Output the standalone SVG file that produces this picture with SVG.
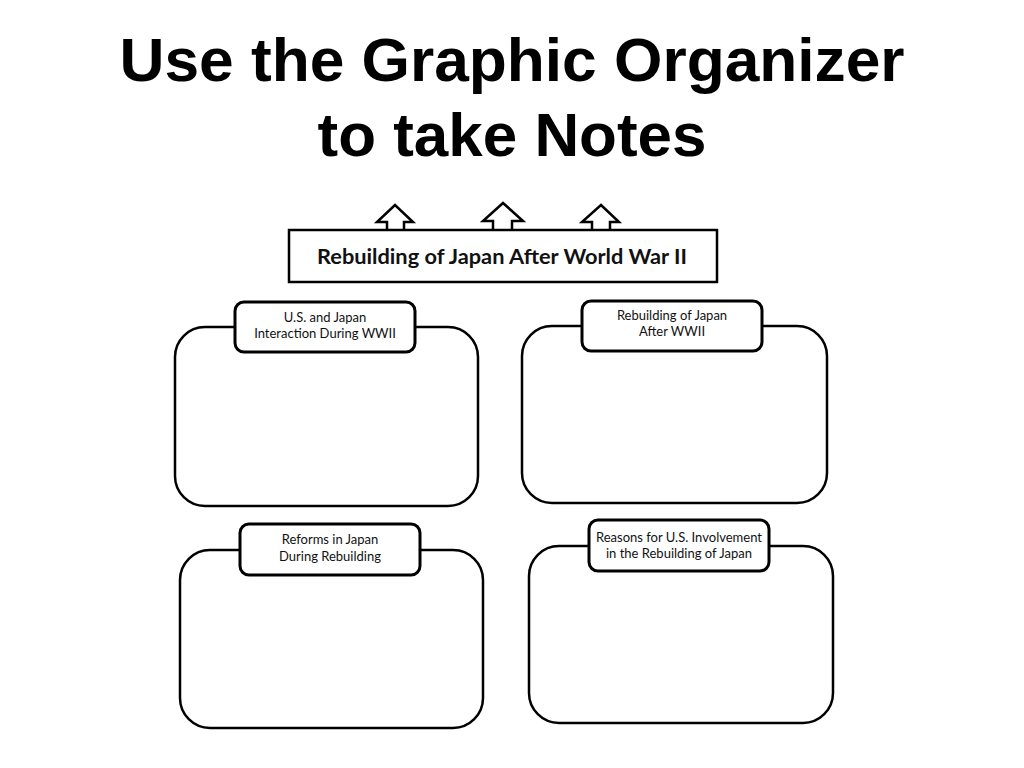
<svg xmlns="http://www.w3.org/2000/svg" width="1024" height="768" viewBox="0 0 1024 768">
<style>
.title{font-family:"Liberation Sans",Arial,sans-serif;font-weight:bold;font-size:61px;fill:#000;text-anchor:middle}
.outer{fill:#fff;stroke:#000;stroke-width:2.5}
.lab{fill:#fff;stroke:#000;stroke-width:3}
.lt{font-family:Lato,"Open Sans",sans-serif;font-size:13px;fill:#111;text-anchor:middle}
.bt{font-family:Lato,"Open Sans",sans-serif;font-weight:bold;font-size:20px;fill:#111;text-anchor:middle}
.arr{fill:#fff;stroke:#000;stroke-width:2.5;stroke-linejoin:miter}
</style>
<rect width="1024" height="768" fill="#fff"/>
<g id="title">
<text class="title" x="512" y="81" textLength="785" lengthAdjust="spacingAndGlyphs">Use the Graphic Organizer</text>
<text class="title" x="512" y="156" textLength="389" lengthAdjust="spacingAndGlyphs">to take Notes</text>
</g>
<g id="connectors">
<path class="arr" d="M387,230 V222 H377 L395,205 L413,222 H404 V230"/>
<path class="arr" d="M493,230 V221 H483 L503,203 L523,221 H512 V230"/>
<path class="arr" d="M592,230 V222 H582 L601,205 L619,222 H610 V230"/>
</g>
<g id="banner">
<rect x="289" y="230" width="428" height="52" fill="#fff" stroke="#000" stroke-width="2.5"/>
<text class="bt" x="502" y="264" textLength="370" lengthAdjust="spacingAndGlyphs">Rebuilding of Japan After World War II</text>
</g>
<g id="box1">
<rect class="outer" x="175" y="327" width="303" height="179" rx="30"/>
<rect class="lab" x="235" y="302" width="180" height="50" rx="9"/>
<text class="lt" x="325" y="322">U.S. and Japan</text>
<text class="lt" x="325" y="338">Interaction During WWII</text>
</g>
<g id="box2">
<rect class="outer" x="522" y="326" width="305" height="177" rx="30"/>
<rect class="lab" x="582" y="301" width="180" height="50" rx="9"/>
<text class="lt" x="672" y="320">Rebuilding of Japan</text>
<text class="lt" x="672" y="336">After WWII</text>
</g>
<g id="box3">
<rect class="outer" x="180" y="550" width="303" height="178" rx="30"/>
<rect class="lab" x="240" y="524" width="180" height="51" rx="9"/>
<text class="lt" x="330" y="544">Reforms in Japan</text>
<text class="lt" x="330" y="561">During Rebuilding</text>
</g>
<g id="box4">
<rect class="outer" x="529" y="546" width="304" height="177" rx="30"/>
<rect class="lab" x="589" y="520" width="180" height="51" rx="9"/>
<text class="lt" x="679" y="542">Reasons for U.S. Involvement</text>
<text class="lt" x="679" y="558">in the Rebuilding of Japan</text>
</g>
</svg>
